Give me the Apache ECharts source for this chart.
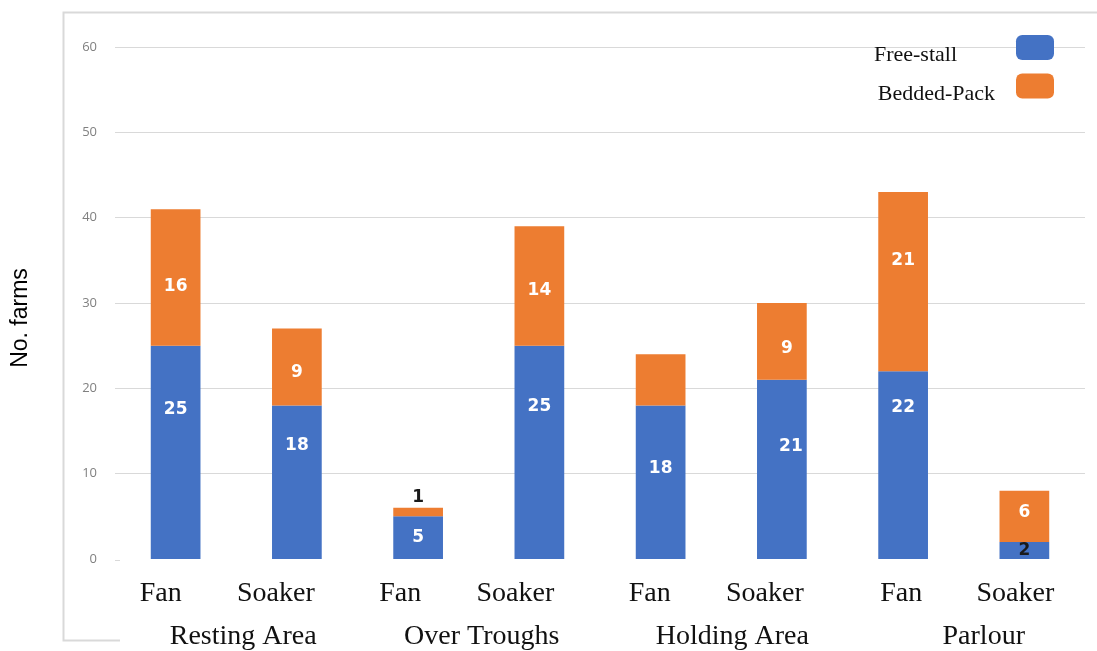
<!DOCTYPE html>
<html>
<head>
<meta charset="utf-8">
<script src="https://cdn.jsdelivr.net/npm/echarts@6/dist/echarts.min.js"></script>
<style>
  html, body { margin: 0; padding: 0; background: #ffffff; }
  #chart { width: 1097px; height: 651px; }
</style>
</head>
<body>
<div id="chart"></div>
<script>
// Cooling devices per location, split by housing type
const locations = ['Resting Area', 'Over Troughs', 'Holding Area', 'Parlour'];
const devices = ['Fan', 'Soaker', 'Fan', 'Soaker', 'Fan', 'Soaker', 'Fan', 'Soaker'];
const freeStall = [25, 18, 5, 25, 18, 21, 22, 2];
const beddedPack = [16, 9, 1, 14, 6, 9, 21, 6];
const yTicks = [0, 10, 20, 30, 40, 50, 60];

// Layout tweaks: horizontal nudges for axis labels, [dx, dy] nudges for value labels
const deviceNudge = [-15, -21, -18, -24, -11, -17, -2, -9];
const locationNudge = [7, 3, 11, 20];
const freeStallLabelShift = [[0, -43], [0, -37], [0, 0], [0, -46], [0, -14], [9, -23], [0, -58], [0, 0]];
const beddedPackLabelShift = [[0, 9], [0, 6], [0, 0], [0, 5], [0, 0], [5, 7], [0, -21], [0, -4]];

const BLUE = '#4472C4';
const ORANGE = '#ED7D31';
const FRAME = '#d9d9d9';

const labelFont = { fontFamily: 'DejaVu Sans', fontWeight: 'bold', fontSize: 17 };
const serifFont = { fontFamily: 'Liberation Serif', fontSize: 28, color: '#111' };
const legendFont = { fontFamily: 'Liberation Serif', fontSize: 22, color: '#111' };

function nudgeRich(nudges) {
  const rich = {};
  nudges.forEach((s, i) => {
    rich['n' + i] = {
      ...serifFont,
      padding: s < 0 ? [0, -2 * s, 0, 0] : [0, 0, 0, 2 * s]
    };
  });
  return rich;
}

// Segments too thin for an inside label get a dark label
function freeStallPoint(v, i) {
  const item = { value: v, label: { offset: freeStallLabelShift[i] } };
  if (v <= 2) {
    item.label = { show: true, position: 'insideBottom', distance: 0, color: '#1a1a1a', ...labelFont };
  }
  return item;
}
function beddedPackPoint(v, i) {
  const item = { value: v, label: { offset: beddedPackLabelShift[i] } };
  if (v <= 2) {
    item.label = { show: true, position: 'top', distance: 2, color: '#1a1a1a', ...labelFont };
  }
  // the Holding Area fan segment carries no label
  if (i === 4) item.label = { show: false };
  return item;
}

const chart = echarts.init(document.getElementById('chart'), null, { renderer: 'canvas' });

chart.setOption({
  animation: false,
  backgroundColor: '#ffffff',
  grid: { left: 115, right: 12, top: 47, bottom: 91, containLabel: false },
  legend: {
    orient: 'vertical',
    right: 38,
    top: 30,
    align: 'right',
    itemWidth: 38,
    itemHeight: 25,
    itemGap: 7,
    icon: 'roundRect',
    // legend names share one left edge
    formatter: name => (name === 'Free-stall' ? '{short|' + name + '}' : '{long|' + name + '}'),
    textStyle: {
      ...legendFont,
      padding: [16, 16, 0, 0],
      rich: {
        short: { ...legendFont, padding: [0, 38, 0, 0] },
        long: { ...legendFont }
      }
    },
    data: ['Free-stall', 'Bedded-Pack']
  },
  xAxis: [
    {
      type: 'category',
      data: devices,
      axisLine: { show: false },
      axisTick: { show: false },
      axisLabel: {
        ...serifFont, margin: 21, interval: 0, hideOverlap: false,
        formatter: (v, i) => '{n' + i + '|' + v + '}',
        rich: nudgeRich(deviceNudge)
      }
    },
    {
      type: 'category',
      data: locations,
      position: 'bottom',
      offset: 55,
      axisLine: { show: false },
      axisTick: { show: false },
      axisLabel: {
        ...serifFont, margin: 9, interval: 0, hideOverlap: false,
        formatter: (v, i) => '{n' + i + '|' + v + '}',
        rich: nudgeRich(locationNudge)
      }
    }
  ],
  yAxis: {
    type: 'value',
    min: 0,
    max: 60,
    interval: 10,
    name: 'No. farms',
    nameLocation: 'middle',
    nameGap: 83,
    nameRotate: 90,
    nameTextStyle: { fontFamily: 'Liberation Sans', fontSize: 23, color: '#000', padding: [0, 30, 0, 0] },
    axisLine: { show: false },
    axisTick: { show: false },
    axisLabel: {
      fontFamily: 'Open Sans', fontSize: 13, color: '#808080', margin: 18,
      formatter: v => (yTicks.includes(v) ? String(v) : '')
    },
    splitLine: { show: true, showMinLine: false, lineStyle: { color: FRAME, width: 1 } }
  },
  series: [
    {
      name: 'Free-stall',
      type: 'bar',
      stack: 'farms',
      xAxisIndex: 0,
      barWidth: '41%',
      itemStyle: { color: BLUE },
      label: { show: true, position: 'inside', color: '#ffffff', ...labelFont },
      data: freeStall.map(freeStallPoint)
    },
    {
      name: 'Bedded-Pack',
      type: 'bar',
      stack: 'farms',
      xAxisIndex: 0,
      barWidth: '41%',
      itemStyle: { color: ORANGE },
      label: { show: true, position: 'inside', color: '#ffffff', ...labelFont },
      data: beddedPack.map(beddedPackPoint)
    }
  ],
  graphic: [
    // light frame round the plot
    { type: 'polyline', silent: true,
      shape: { points: [[1097, 12.5], [63.5, 12.5], [63.5, 640.5], [120, 640.5]] },
      style: { stroke: FRAME, lineWidth: 2, fill: null } },
    // short baseline tick at zero
    { type: 'line', silent: true,
      shape: { x1: 115, y1: 560.5, x2: 120, y2: 560.5 },
      style: { stroke: FRAME, lineWidth: 1 } }
  ]
});
</script>
</body>
</html>
